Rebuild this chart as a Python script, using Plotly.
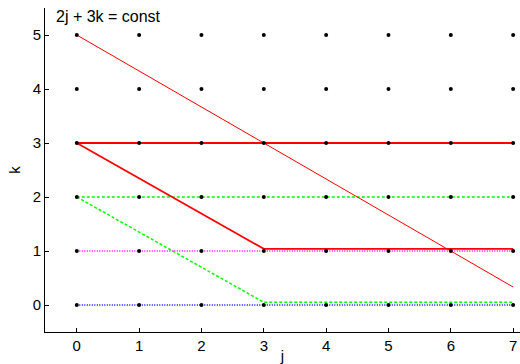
import plotly.graph_objects as go

j_grid = [0, 1, 2, 3, 4, 5, 6, 7]
k_grid = [0, 1, 2, 3, 4, 5]

# lines: (j values, k values)
red_thin_j = [0, 7]
red_thin_k = [5, 0.333]
red_top_j = [0, 7]
red_top_k = [3, 3]
red_bend_j = [0, 3, 7]
red_bend_k = [3, 1.04, 1.04]
green_top_j = [0, 7]
green_top_k = [2, 2]
green_bend_j = [0, 3, 7]
green_bend_k = [2, 0.05, 0.05]
magenta_j = [0, 7]
magenta_k = [1, 1]
blue_j = [0, 7]
blue_k = [0, 0]

fig = go.Figure()
def line(x, y, color, width, dash="solid"):
    fig.add_trace(go.Scatter(x=x, y=y, mode="lines",
                             line=dict(color=color, width=width, dash=dash),
                             showlegend=False, hoverinfo="skip"))

line(blue_j, blue_k, "#0000ff", 1.3, "1px,1.5px")
line(magenta_j, magenta_k, "#ff00ff", 1.3, "1px,1.5px")
line(green_top_j, green_top_k, "#00ff00", 1.5, "3px,2px")
line(green_bend_j, green_bend_k, "#00ff00", 1.5, "3px,2px")
line(red_top_j, red_top_k, "#ff0000", 2)
line(red_bend_j, red_bend_k, "#ff0000", 1.8)
line(red_thin_j, red_thin_k, "#ff0000", 1)

gx = [j for k in k_grid for j in j_grid]
gy = [k for k in k_grid for j in j_grid]
fig.add_trace(go.Scatter(x=gx, y=gy, mode="markers",
                         marker=dict(color="black", size=4),
                         showlegend=False, hoverinfo="skip"))

font = dict(family="Liberation Sans, Arial, sans-serif", size=15, color="black")
fig.update_layout(
    width=520, height=364,
    margin=dict(l=45, r=0, t=8, b=32),
    paper_bgcolor="white", plot_bgcolor="white",
    font=font,
    xaxis=dict(range=[-0.51, 7.11], tickvals=j_grid, ticks="inside", ticklen=4,
               tickcolor="black", showline=True, linecolor="black", linewidth=1,
               showgrid=False, zeroline=False, tickfont=font,
               title=dict(text="j", font=font, standoff=0)),
    yaxis=dict(range=[-0.5, 5.5], tickvals=k_grid, ticks="inside", ticklen=4,
               tickcolor="black", showline=True, linecolor="black", linewidth=1,
               showgrid=False, zeroline=False, tickfont=font,
               title=dict(text="k", font=font, standoff=8)),
    annotations=[dict(text="2j + 3k = const", x=0.018, y=1.005, xref="paper", yref="paper",
                      xanchor="left", yanchor="top", showarrow=False,
                      font=dict(family="Liberation Sans, Arial, sans-serif", size=16, color="black"))],
)
fig.write_html("out.html")
